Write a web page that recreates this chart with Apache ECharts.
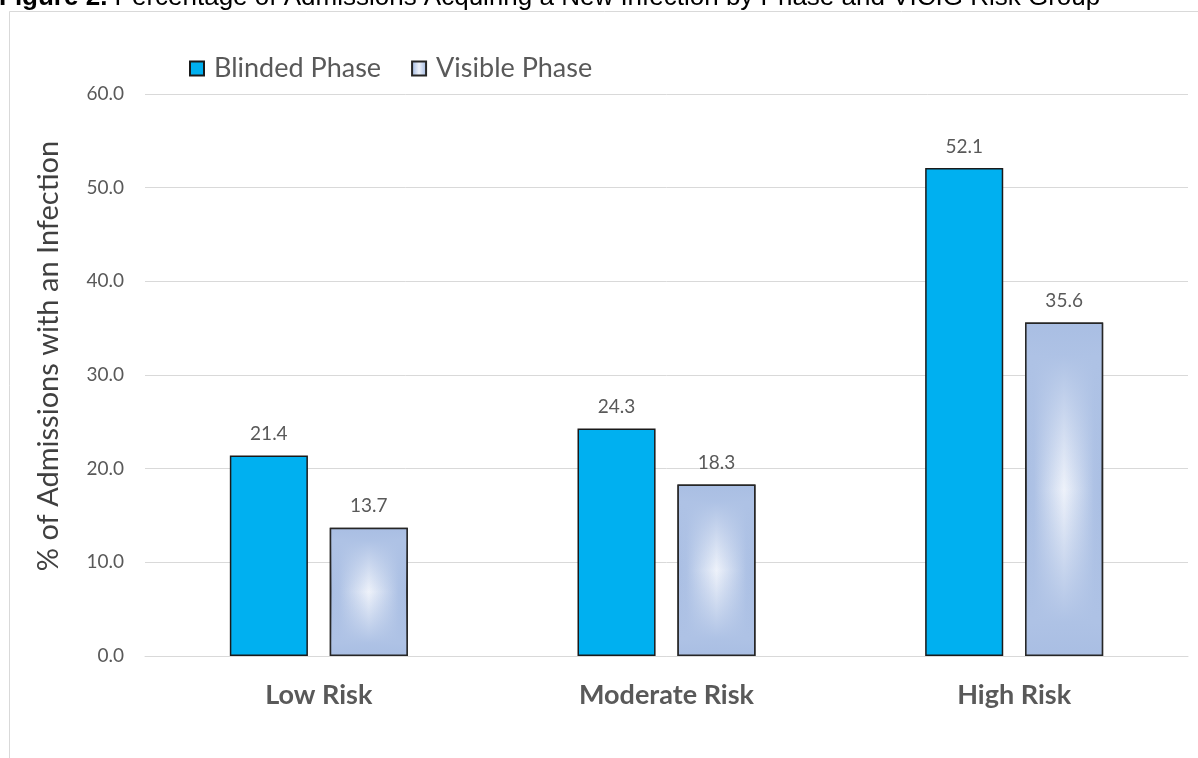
<!DOCTYPE html>
<html>
<head>
<meta charset="utf-8">
<script src="https://cdn.jsdelivr.net/npm/echarts@6/dist/echarts.min.js"></script>
<style>
html,body{margin:0;padding:0;background:#fff;}
#c{width:1198px;height:758px;}
</style>
</head>
<body>
<div id="c"></div>
<script>
var categories = ['Low Risk', 'Moderate Risk', 'High Risk'];
var blinded = [21.4, 24.3, 52.1];
var visible = [13.7, 18.3, 35.6];
var yTicks = [0, 10, 20, 30, 40, 50, 60];
var seriesNames = ['Blinded Phase', 'Visible Phase'];
var titleBold = 'Figure 2.';
var titleRest = ' Percentage of Admissions Acquiring a New Infection by Phase and VICIG Risk Group';
var yTitle = '% of Admissions with an Infection';

var chart = echarts.init(document.getElementById('c'), null, {renderer: 'canvas'});

var hGrad = new echarts.graphic.LinearGradient(0, 0, 1, 0, [
  {offset: 0, color: '#A9BEE3'},
  {offset: 0.12, color: '#AEC2E5'},
  {offset: 0.5, color: '#EEF2FA'},
  {offset: 0.88, color: '#AEC2E5'},
  {offset: 1, color: '#A9BEE3'}
]);
var vGrad = new echarts.graphic.LinearGradient(0, 0, 0, 1, [
  {offset: 0, color: 'rgba(169,190,227,1)'},
  {offset: 0.1, color: 'rgba(174,194,229,1)'},
  {offset: 0.5, color: 'rgba(174,194,229,0)'},
  {offset: 0.9, color: 'rgba(174,194,229,1)'},
  {offset: 1, color: 'rgba(169,190,227,1)'}
]);

var barCat = '48.8%';
var barGap = '28%';

var option = {
  animation: false,
  backgroundColor: '#ffffff',
  graphic: [
    {
      type: 'rect',
      shape: {x: 9.5, y: 11.5, width: 1400, height: 1000},
      style: {fill: 'none', stroke: '#D9D9D9', lineWidth: 1},
      silent: true, z: 0
    },
    {
      type: 'text',
      left: -1, top: -15,
      style: {
        text: '{b|' + titleBold + '}{n|' + titleRest + '}',
        rich: {
          b: {fontFamily: 'Liberation Sans', fontWeight: 'bold', fontSize: 26, fill: '#000'},
          n: {fontFamily: 'Liberation Sans', fontSize: 26, fill: '#000'}
        }
      },
      silent: true, z: 10
    }
  ],
  legend: {
    data: seriesNames,
    left: 184, top: 50,
    itemWidth: 14, itemHeight: 14,
    itemGap: 30,
    icon: 'rect',
    textStyle: {fontFamily: 'Lato', fontSize: 27, color: '#595959', padding: [0, 0, 0, 5]}
  },
  grid: {left: 145, right: 10, top: 94, bottom: 102, containLabel: false},
  xAxis: [
    {
      type: 'category',
      data: categories,
      axisLine: {lineStyle: {color: '#D9D9D9', width: 1}},
      axisTick: {show: false},
      axisLabel: {fontFamily: 'Lato', fontWeight: 'bold', fontSize: 27, color: '#595959', margin: 26}
    },
    {
      type: 'category',
      data: categories,
      show: false
    }
  ],
  yAxis: {
    type: 'value',
    min: yTicks[0], max: yTicks[yTicks.length - 1], interval: yTicks[1] - yTicks[0],
    name: yTitle,
    nameLocation: 'middle',
    nameGap: 82,
    nameRotate: 90,
    nameTextStyle: {fontFamily: 'Lato', fontSize: 29, color: '#404040', padding: [0, 0, 0, 38]},
    axisLine: {show: false},
    axisTick: {show: false},
    splitLine: {lineStyle: {color: '#D9D9D9', width: 1}},
    axisLabel: {
      fontFamily: 'Lato', fontSize: 19, color: '#595959', margin: 21,
      formatter: function (v) { return v.toFixed(1); }
    }
  },
  series: [
    {
      name: seriesNames[0], type: 'bar', data: blinded,
      barCategoryGap: barCat, barGap: barGap,
      itemStyle: {color: '#00B0F0', borderColor: '#1A1A1A', borderWidth: 1.5},
      label: {show: true, position: 'top', distance: 12, fontFamily: 'Lato', fontSize: 19, color: '#595959',
        formatter: function (p) { return p.value.toFixed(1); }}
    },
    {
      name: seriesNames[1], type: 'bar', data: visible,
      barCategoryGap: barCat, barGap: barGap,
      itemStyle: {color: hGrad, borderColor: '#262626', borderWidth: 1.5},
      label: {show: true, position: 'top', distance: 12, fontFamily: 'Lato', fontSize: 19, color: '#595959',
        formatter: function (p) { return p.value.toFixed(1); }}
    },
    {
      name: 'slot', type: 'bar', xAxisIndex: 1, data: blinded,
      barCategoryGap: barCat, barGap: barGap, silent: true,
      itemStyle: {color: 'rgba(0,0,0,0)', borderWidth: 0}
    },
    {
      name: 'shade', type: 'bar', xAxisIndex: 1, data: visible,
      barCategoryGap: barCat, barGap: barGap, silent: true,
      itemStyle: {color: vGrad, borderColor: '#262626', borderWidth: 1.5}
    }
  ]
};
chart.setOption(option);
</script>
</body>
</html>
